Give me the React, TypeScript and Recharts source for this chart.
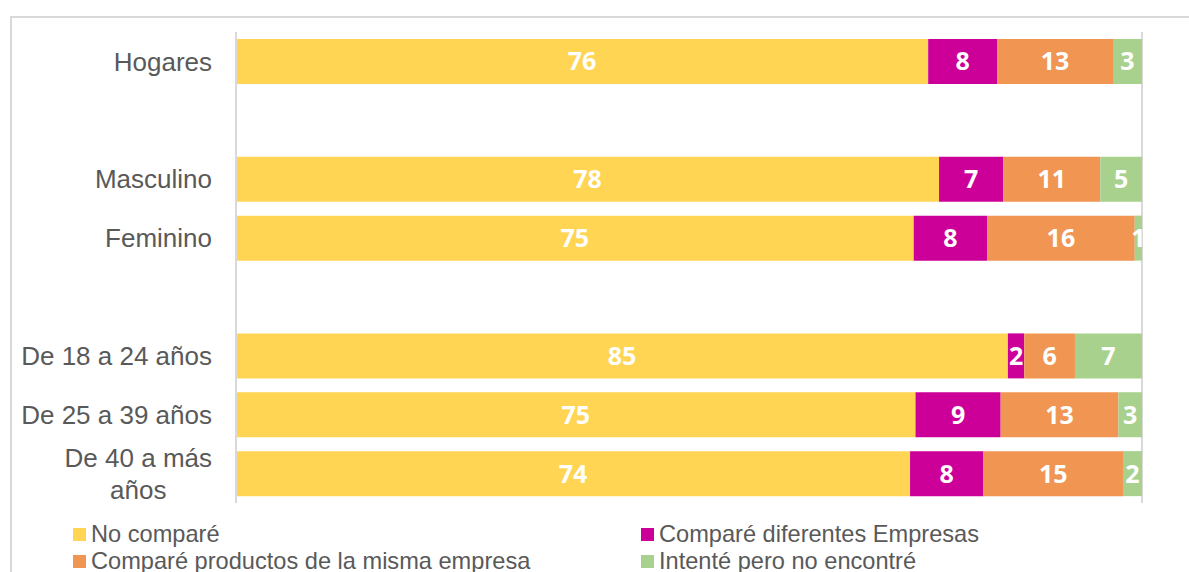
import React from "react";
import { BarChart, Bar, XAxis, YAxis, CartesianGrid, LabelList } from "recharts";

const categories = [
  "Hogares",
  "",
  "Masculino",
  "Feminino",
  " ",
  "De 18 a 24 años",
  "De 25 a 39 años",
  "De 40 a más años",
];

const noCompare = [76.4, null, 77.6, 74.8, null, 85.2, 75.0, 74.4];
const difEmpresas = [7.6, null, 7.1, 8.1, null, 1.8, 9.4, 8.1];
const mismaEmpresa = [12.8, null, 10.7, 16.3, null, 5.6, 13.0, 15.4];
const noEncontre = [3.2, null, 4.6, 0.8, null, 7.4, 2.6, 2.1];

const xTicks = [0, 20, 40, 60, 80, 100];

const SERIES = [
  { key: "noCompare", name: "No comparé", color: "#FFD553" },
  { key: "difEmpresas", name: "Comparé diferentes Empresas", color: "#CC0099" },
  { key: "mismaEmpresa", name: "Comparé productos de la misma empresa", color: "#F09552" },
  { key: "noEncontre", name: "Intenté pero no encontré", color: "#A9D18E" },
];

const data = categories.map((cat, i) => ({
  cat,
  noCompare: noCompare[i],
  difEmpresas: difEmpresas[i],
  mismaEmpresa: mismaEmpresa[i],
  noEncontre: noEncontre[i],
}));

const TEXT = "#595959";
const GRID = "#d9d9d9";
const SANS = "'Liberation Sans', Arial, sans-serif";

let measureCtx: CanvasRenderingContext2D | null = null;
function textWidth(s: string, font: string) {
  if (!measureCtx) measureCtx = document.createElement("canvas").getContext("2d");
  if (!measureCtx) return s.length * 12;
  measureCtx.font = font;
  return measureCtx.measureText(s).width;
}

function CategoryTick({ x, y, payload }: any) {
  const text: string = payload.value;
  if (!text.trim()) return null;
  const fontSize = 26;
  if (text.length <= 15) {
    return (
      <text x={x} y={y} dy="0.35em" textAnchor="end" fill={TEXT} fontSize={fontSize} fontFamily={SANS}>
        {text}
      </text>
    );
  }
  const cut = text.lastIndexOf(" ");
  const lines = [text.slice(0, cut), text.slice(cut + 1)];
  const font = `${fontSize}px ${SANS}`;
  const w = Math.max(...lines.map((l) => textWidth(l, font)));
  const cx = x - w / 2;
  return (
    <text textAnchor="middle" fill={TEXT} fontSize={fontSize} fontFamily={SANS}>
      <tspan x={cx} y={y - 16} dy="0.35em">{lines[0]}</tspan>
      <tspan x={cx} y={y + 16} dy="0.35em">{lines[1]}</tspan>
    </text>
  );
}

const fmt = (v: any) => (v == null || v === "" ? "" : String(Math.round(Number(v))));

function LegendBlock() {
  return (
    <div
      style={{
        position: "absolute",
        left: 73,
        top: 521,
        display: "grid",
        gridTemplateColumns: "568px auto",
        fontFamily: SANS,
        fontSize: 23.6,
        color: TEXT,
        lineHeight: "27px",
      }}
    >
      {SERIES.map((s) => (
        <div key={s.key} style={{ display: "flex", alignItems: "center", whiteSpace: "nowrap" }}>
          <span style={{ width: 13, height: 13, background: s.color, marginRight: 5, display: "inline-block" }} />
          <span>{s.name}</span>
        </div>
      ))}
    </div>
  );
}

export default function App() {
  return (
    <div
      style={{
        position: "fixed",
        left: 0,
        top: 0,
        width: 1189,
        height: 572,
        overflow: "hidden",
        background: "#fff",
      }}
    >
      <div
        style={{
          position: "absolute",
          left: 10,
          top: 16,
          width: 1200,
          height: 600,
          borderTop: `2px solid ${GRID}`,
          borderLeft: `2px solid ${GRID}`,
        }}
      />
      <div style={{ position: "absolute", left: 0, top: 0 }}>
        <BarChart
          width={1189}
          height={572}
          data={data}
          layout="vertical"
          barSize={45}
          margin={{ top: 32, right: 47, bottom: 69, left: 0 }}
        >
          <CartesianGrid horizontal={false} stroke={GRID} strokeWidth={2} />
          <XAxis
            type="number"
            domain={[0, 100]}
            ticks={xTicks}
            tick={false}
            tickLine={false}
            axisLine={false}
            height={0}
          />
          <YAxis
            type="category"
            dataKey="cat"
            width={236}
            tickLine={false}
            tickMargin={18}
            axisLine={{ stroke: GRID, strokeWidth: 2 }}
            tick={<CategoryTick />}
            interval={0}
          />
          {SERIES.map((s) => (
            <Bar key={s.key} dataKey={s.key} name={s.name} stackId="a" fill={s.color} isAnimationActive={false}>
              <LabelList
                dataKey={s.key}
                position="center"
                formatter={fmt}
                fill="#ffffff"
                style={{ fontFamily: "'Open Sans', sans-serif", fontWeight: 700, fontSize: 25 }}
              />
            </Bar>
          ))}
        </BarChart>
      </div>
      <LegendBlock />
    </div>
  );
}
